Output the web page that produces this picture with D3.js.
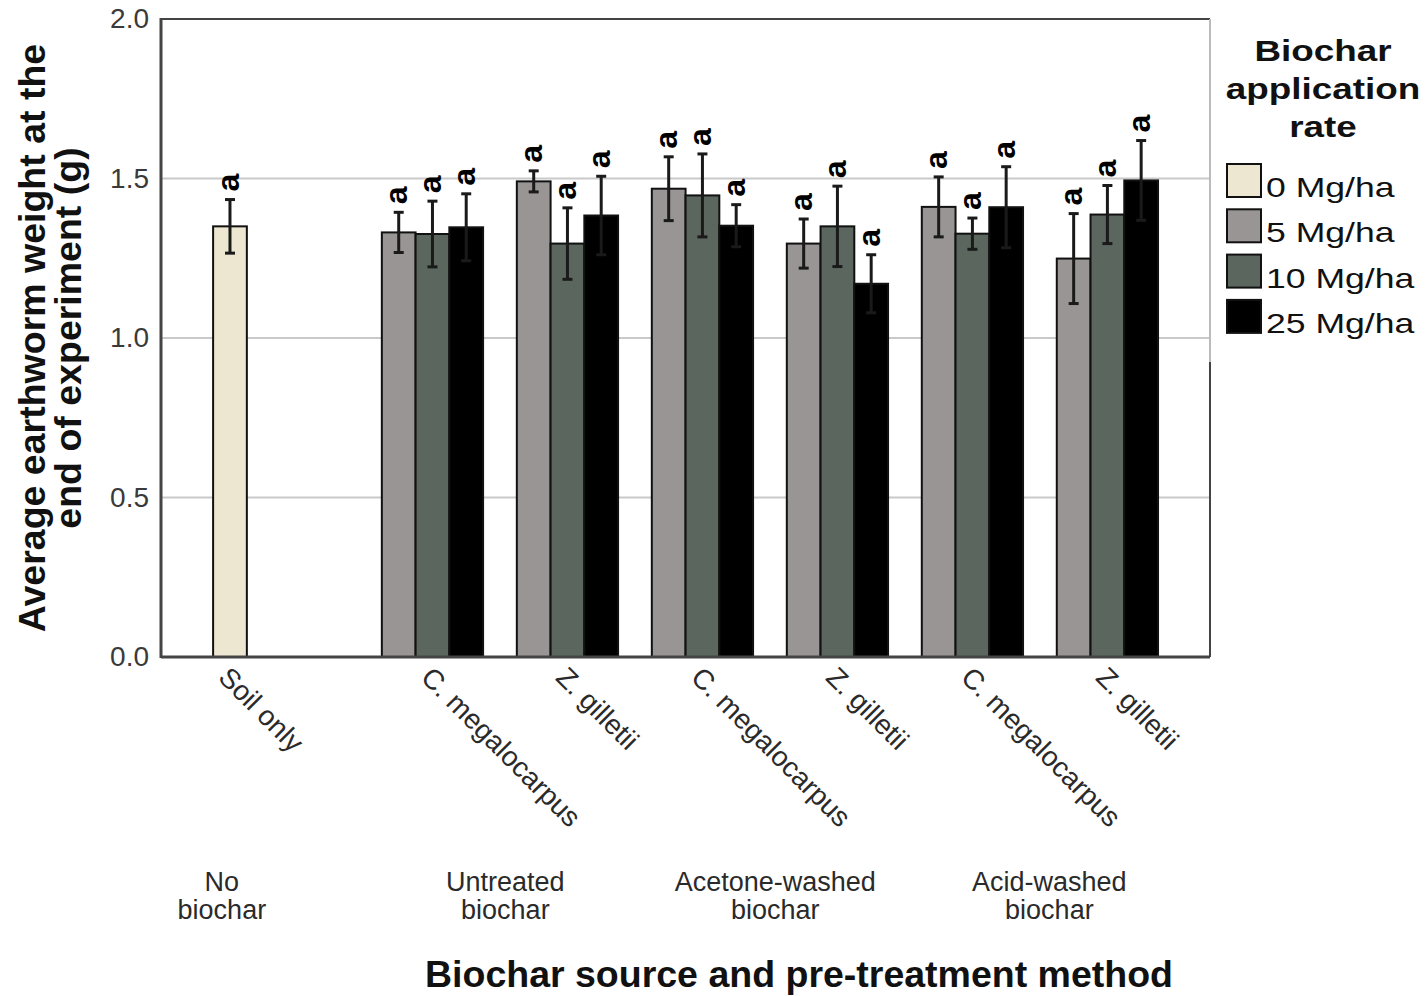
<!DOCTYPE html>
<html>
<head>
<meta charset="utf-8">
<script src="https://cdn.jsdelivr.net/npm/d3@7.9.0/dist/d3.min.js"></script>
<style>
  body { margin: 0; background: #fff; }
  svg text { font-family: "Liberation Sans", Arial, sans-serif; }
</style>
</head>
<body>
<svg id="chart" width="1426" height="996"></svg>
<script>
// categories along the x axis (biochar source within each treatment)
const groups = ["Soil only", "C. megalocarpus", "Z. gilletii", "C. megalocarpus", "Z. gilletii", "C. megalocarpus", "Z. gilletii"];
const treatments = [["No", "biochar"], ["Untreated", "biochar"], ["Acetone-washed", "biochar"], ["Acid-washed", "biochar"]];
const rates = ["0 Mg/ha", "5 Mg/ha", "10 Mg/ha", "25 Mg/ha"];
const rateColors = ["#ede6d0", "#9a9595", "#5b665f", "#000000"];

// mean weight (g) per rate, aligned with groups
const mean0  = [1.350, null, null, null, null, null, null];
const mean5  = [null, 1.331, 1.491, 1.468, 1.296, 1.411, 1.249];
const mean10 = [null, 1.326, 1.296, 1.447, 1.350, 1.327, 1.387];
const mean25 = [null, 1.347, 1.384, 1.352, 1.170, 1.410, 1.494];

// error bar half-widths
const err0  = [0.084, null, null, null, null, null, null];
const err5  = [null, 0.063, 0.033, 0.100, 0.077, 0.094, 0.141];
const err10 = [null, 0.103, 0.112, 0.130, 0.126, 0.049, 0.091];
const err25 = [null, 0.105, 0.123, 0.066, 0.091, 0.127, 0.125];

// significance letters
const letters = "a";

const yTicks = [0, 0.5, 1.0, 1.5, 2.0];

const means = [mean0, mean5, mean10, mean25];
const errs = [err0, err5, err10, err25];

const svg = d3.select("#chart");
const plotLeft = 161, plotRight = 1210, plotTop = 19, plotBottom = 657;

// cluster position: soil only at 0, the biochar groups follow after a half gap
const clusterPos = groups.map((g, i) => i === 0 ? 0 : i + 0.5);
// treatment captions sit roughly under every second cluster
const treatmentPos = [-0.06, 2.04, 4.04, 6.07];
const x = d3.scaleLinear().domain([-0.511, 7.26]).range([plotLeft, plotRight]);
const y = d3.scaleLinear().domain([0, 2]).range([plotBottom, plotTop]);
const barW = x(0.25) - x(0);

// gridlines
svg.append("g")
  .selectAll("line")
  .data(yTicks.filter(d => d > 0 && d < 2))
  .join("line")
  .attr("x1", plotLeft).attr("x2", plotRight)
  .attr("y1", d => y(d)).attr("y2", d => y(d))
  .attr("stroke", "#c9c9c9").attr("stroke-width", 2);

// frame: top and right
svg.append("line").attr("x1", plotLeft).attr("x2", plotRight).attr("y1", plotTop).attr("y2", plotTop)
  .attr("stroke", "#444").attr("stroke-width", 2);
svg.append("line").attr("x1", plotRight).attr("x2", plotRight).attr("y1", plotTop).attr("y2", 362)
  .attr("stroke", "#bbb").attr("stroke-width", 2);
svg.append("line").attr("x1", plotRight).attr("x2", plotRight).attr("y1", 362).attr("y2", plotBottom)
  .attr("stroke", "#444").attr("stroke-width", 2);

// flatten bars
const bars = [];
groups.forEach((g, gi) => {
  const present = rates.map((r, ri) => ri).filter(ri => means[ri][gi] != null);
  const x1 = d3.scaleBand().domain(present)
    .range([-present.length * barW / 2, present.length * barW / 2]);
  present.forEach(ri => {
    bars.push({
      gi, ri,
      x: x(clusterPos[gi]) + x1(ri),
      w: x1.bandwidth(),
      mean: means[ri][gi],
      err: errs[ri][gi]
    });
  });
});

svg.append("g")
  .selectAll("rect")
  .data(bars)
  .join("rect")
  .attr("x", d => d.x)
  .attr("y", d => y(d.mean))
  .attr("width", d => d.w)
  .attr("height", d => y(0) - y(d.mean))
  .attr("fill", d => rateColors[d.ri])
  .attr("stroke", "#111")
  .attr("stroke-width", 2);

// error bars
const eb = svg.append("g").attr("stroke", "#1a1a1a").attr("stroke-width", 3);
bars.forEach(d => {
  const cx = d.x + d.w / 2;
  eb.append("line").attr("x1", cx).attr("x2", cx)
    .attr("y1", y(d.mean - d.err)).attr("y2", y(d.mean + d.err));
  [d.mean - d.err, d.mean + d.err].forEach(v => {
    eb.append("line").attr("x1", cx - 5).attr("x2", cx + 5)
      .attr("y1", y(v)).attr("y2", y(v));
  });
});

// letters above error bars
svg.append("g")
  .selectAll("text")
  .data(bars)
  .join("text")
  .attr("transform", d => `translate(${d.x + d.w / 2},${y(d.mean + d.err) - 8}) rotate(-90)`)
  .attr("dy", "0.27em")
  .attr("font-size", 32)
  .attr("font-weight", "bold")
  .attr("fill", "#000")
  .text(letters);

// axes lines
svg.append("line").attr("x1", plotLeft).attr("x2", plotLeft).attr("y1", plotTop - 1).attr("y2", plotBottom + 1)
  .attr("stroke", "#444").attr("stroke-width", 3);
svg.append("line").attr("x1", plotLeft).attr("x2", plotRight).attr("y1", plotBottom).attr("y2", plotBottom)
  .attr("stroke", "#444").attr("stroke-width", 3);

// y axis labels
const yAxis = svg.append("g")
  .attr("transform", `translate(${plotLeft},0)`)
  .call(d3.axisLeft(y).tickValues(yTicks).tickFormat(d3.format(".1f")).tickSize(0).tickPadding(12));
yAxis.select(".domain").remove();
yAxis.selectAll("text")
  .attr("font-size", 28)
  .attr("fill", "#3a3a3a")
  .attr("font-family", "Liberation Sans, Arial, sans-serif");

// category labels, rotated 45 degrees
svg.append("g")
  .selectAll("text")
  .data(groups)
  .join("text")
  .attr("transform", (d, i) => `translate(${x(clusterPos[i]) - 13},${plotBottom + 22}) rotate(45)`)
  .attr("font-size", 28)
  .attr("fill", "#2a2a2a")
  .text(d => d);

// treatment labels
const tl = svg.append("g")
  .selectAll("text")
  .data(treatments)
  .join("text")
  .attr("x", (d, i) => x(treatmentPos[i]))
  .attr("y", 891)
  .attr("text-anchor", "middle")
  .attr("font-size", 27)
  .attr("fill", "#2a2a2a");
tl.selectAll("tspan")
  .data(d => d)
  .join("tspan")
  .attr("x", function () { return d3.select(this.parentNode).attr("x"); })
  .attr("dy", (d, i) => i === 0 ? 0 : 28)
  .text(d => d);

// axis titles
svg.append("text")
  .attr("x", 799).attr("y", 987)
  .attr("text-anchor", "middle")
  .attr("font-size", 37.5)
  .attr("font-weight", "bold")
  .attr("fill", "#111")
  .text("Biochar source and pre-treatment method");

const yTitle = ["Average earthworm weight at the", "end of experiment (g)"];
svg.append("g")
  .selectAll("text")
  .data(yTitle)
  .join("text")
  .attr("transform", (d, i) => `translate(${45 + i * 36},${(plotTop + plotBottom) / 2}) rotate(-90)`)
  .attr("text-anchor", "middle")
  .attr("font-size", 37.5)
  .attr("font-weight", "bold")
  .attr("fill", "#111")
  .text(d => d);

// legend
const legendTitle = ["Biochar", "application", "rate"];
svg.append("g")
  .selectAll("text")
  .data(legendTitle)
  .join("text")
  .attr("transform", (d, i) => `translate(1323,${61 + i * 38}) scale(1.27,1)`)
  .attr("text-anchor", "middle")
  .attr("font-size", 29)
  .attr("font-weight", "bold")
  .attr("fill", "#111")
  .text(d => d);

const leg = svg.append("g")
  .selectAll("g")
  .data(rates)
  .join("g")
  .attr("transform", (d, i) => `translate(1227,${164 + i * 45.3})`);
leg.append("rect")
  .attr("width", 34).attr("height", 33)
  .attr("fill", (d, i) => rateColors[i])
  .attr("stroke", "#111").attr("stroke-width", 2);
leg.append("text")
  .attr("transform", "translate(39,33) scale(1.27,1)")
  .attr("font-size", 28)
  .attr("fill", "#111")
  .text(d => d);
</script>
</body>
</html>
